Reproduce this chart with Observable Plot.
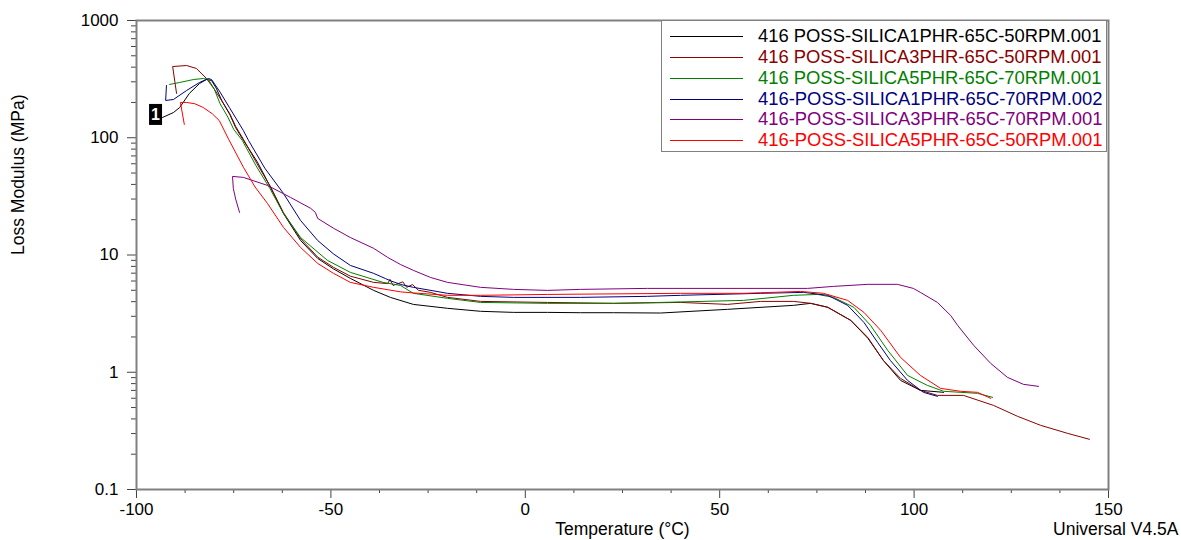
<!DOCTYPE html>
<html>
<head>
<meta charset="utf-8">
<script src="https://cdn.jsdelivr.net/npm/d3@7"></script>
<script src="https://cdn.jsdelivr.net/npm/@observablehq/plot@0.6"></script>
<style>
  html, body { margin: 0; padding: 0; background: #fff; }
  #wrap { position: relative; width: 1181px; height: 540px; font-family: "Liberation Sans", Arial, sans-serif; }
  #legend { position: absolute; left: 661px; top: 20px; width: 446px; height: 132px; border: 1px solid #808080; box-sizing: border-box; background: #fff; }
  .row { position: absolute; left: 0; height: 20px; }
  .sw { position: absolute; left: 8px; width: 73px; height: 0; border-top: 1.5px solid; }
  .lab { position: absolute; left: 96px; white-space: nowrap; font-size: 18.4px; line-height: 20px; }
</style>
</head>
<body>
<div id="wrap"></div>
<script>
// ---- data ----
const seriesNames = [
  "416 POSS-SILICA1PHR-65C-50RPM.001",
  "416 POSS-SILICA3PHR-65C-50RPM.001",
  "416 POSS-SILICA5PHR-65C-70RPM.001",
  "416-POSS-SILICA1PHR-65C-70RPM.002",
  "416-POSS-SILICA3PHR-65C-70RPM.001",
  "416-POSS-SILICA5PHR-65C-50RPM.001"
];
const seriesColors = ["#000000", "#8b0000", "#008000", "#000080", "#800080", "#ff0000"];

// [temperature °C, loss modulus MPa]
const s1 = [[-93.3,149],[-90.5,164],[-88.9,181],[-86.4,239],[-83.8,290],[-82.0,314],[-80.7,308],[-79.5,265],[-78,205],[-76,158],[-74.5,122],[-72.5,95],[-68.9,62],[-65.5,37.7],[-62.2,22.6],[-57.8,13.3],[-53.4,9.35],[-49.3,7.6],[-45,6.32],[-39,4.99],[-34.7,4.35],[-28.8,3.79],[-20,3.51],[-11.5,3.31],[-3,3.24],[5.7,3.24],[14.2,3.22],[22.7,3.22],[34.8,3.2],[52,3.44],[69,3.72],[73.4,3.87],[77.8,3.58],[83.7,2.77],[88.1,1.95],[92.1,1.26],[96.5,0.853],[101.6,0.701],[107.6,0.674]];
const s2 = [[-89.7,239],[-90.7,405],[-87.1,413],[-84.6,390],[-82,320],[-80,260],[-78,205],[-76,160],[-74.5,125],[-72.5,97],[-69,60],[-65.5,38],[-62.2,23],[-57.8,13.8],[-53.4,9.6],[-49.3,7.84],[-45,6.6],[-39,5.84],[-35.4,5.7],[-34.8,6.2],[-34,5.5],[-31.5,5.9],[-30.5,5.3],[-29,5.6],[-27.5,5.0],[-24.4,4.8],[-20,4.35],[-11.5,4.02],[5.7,3.94],[22.7,3.87],[39.9,3.94],[52,3.79],[60.5,4.02],[69,4.02],[73.4,3.87],[77.8,3.58],[83.7,2.77],[88.1,1.98],[92.1,1.26],[96.5,0.887],[101.6,0.701],[106,0.635],[112.7,0.635],[120.4,0.522],[126.6,0.421],[132.5,0.353],[139.5,0.301],[145.1,0.268]];
const s3 = [[-91.5,285],[-88.9,296],[-85.3,314],[-82.8,320],[-81.5,314],[-80,260],[-78.5,195],[-76.5,150],[-75,118],[-72.8,95],[-69.3,58],[-65.7,37],[-62.2,22.6],[-57.8,14.1],[-50.9,9.0],[-45,7.11],[-36.6,5.84],[-32.1,5.5],[-28.8,4.71],[-20,4.27],[-11.5,3.94],[5.7,3.87],[22.7,3.87],[34.8,3.94],[56.1,4.1],[69,4.53],[75.2,4.61],[79.3,4.35],[84.5,3.58],[88.8,2.51],[93.2,1.54],[98.3,0.941],[103.4,0.773],[107.6,0.688],[116.3,0.661],[120.2,0.611]];
const s4 = [[-92.3,279],[-92.5,208],[-90.5,212],[-87.1,253],[-83.8,296],[-81.5,320],[-80.7,314],[-78.5,245],[-76.1,181],[-72.5,115],[-71.2,95],[-67,55],[-62.2,33.5],[-57.8,19.7],[-53.4,13.3],[-49.3,10.2],[-45,8.15],[-39,6.97],[-36,6.3],[-34.5,6.0],[-32,5.6],[-28.8,5.3],[-20,4.71],[-11.5,4.44],[-3,4.35],[14.2,4.35],[31.4,4.44],[39.9,4.53],[60.5,4.71],[71.6,4.8],[77.8,4.53],[82.9,3.72],[87.1,2.66],[90.6,1.8],[93.9,1.26],[98.3,0.853],[102.4,0.674],[106,0.623]];
const s5 = [[-73.5,23.1],[-74.5,30],[-75.1,37],[-75.3,46.8],[-72.5,45.9],[-66.3,39.2],[-60.4,31],[-55.2,25],[-54,23.1],[-53.4,20.5],[-49.3,16.9],[-45,14.1],[-39,11.4],[-35.4,9.54],[-32.1,8.3],[-28.8,7.4],[-24.4,6.44],[-20,5.84],[-11.5,5.3],[-3,5.09],[5.7,4.99],[14.2,5.09],[31.4,5.19],[72.6,5.19],[79.3,5.4],[88.1,5.62],[95.7,5.62],[99.8,5.19],[101.6,4.8],[106,3.94],[109.4,3.05],[111.2,2.51],[115.3,1.7],[119.7,1.19],[124,0.905],[128.1,0.789],[132,0.758]];
const s6 = [[-87.7,130],[-88.7,200],[-87.1,200],[-85,195],[-82.8,181],[-80.5,160],[-78.7,140],[-76.3,97],[-72.5,56],[-69.5,38],[-66.3,27.5],[-62.2,17.2],[-57.8,11.6],[-53.4,8.48],[-49.3,6.97],[-45,5.84],[-39,5.3],[-32.1,4.85],[-28.8,4.75],[-20,4.53],[-11.5,4.53],[5.7,4.61],[39.9,4.71],[56.1,4.71],[70.8,4.89],[76.7,4.71],[82.9,4.1],[87.1,3.24],[91.4,2.28],[96.5,1.34],[101.6,0.941],[106.8,0.729],[111.9,0.688],[116.3,0.674],[119.7,0.599]];

const xMajorTicks = [-100, -50, 0, 50, 100, 150];
const xMinorTicks = [-87.5, -75, -62.5, -37.5, -25, -12.5, 12.5, 25, 37.5, 62.5, 75, 87.5, 112.5, 125, 137.5];
const yMajorTicks = [0.1, 1, 10, 100, 1000];
const yMinorTicks = [0.2,0.3,0.4,0.5,0.6,0.7,0.8,0.9, 2,3,4,5,6,7,8,9, 20,30,40,50,60,70,80,90, 200,300,400,500,600,700,800,900];
const xTitle = "Temperature (°C)";
const yTitle = "Loss Modulus (MPa)";
const footer = "Universal V4.5A";
const markerLabel = "1";

// ---- build ----
const allSeries = [s1, s2, s3, s4, s5, s6];
const rows = allSeries.flatMap((s, i) => s.map(([t, v]) => ({t, v, k: seriesNames[i]})));
const markerPoint = [{t: s1[0][0], v: s1[0][1]}];

const boxSymbol = { draw(ctx, size) { ctx.moveTo(-6.5, -10.5); ctx.lineTo(6.5, -10.5); ctx.lineTo(6.5, 10.5); ctx.lineTo(-6.5, 10.5); ctx.closePath(); } };

const chart = Plot.plot({
  width: 1181,
  height: 540,
  marginLeft: 136,
  marginRight: 73,
  marginTop: 20,
  marginBottom: 51,
  style: {fontFamily: "'Liberation Sans', Arial, sans-serif", fontSize: "17px", color: "#000", background: "#fff"},
  x: {domain: [-100, 150], label: null},
  y: {type: "log", domain: [0.1, 1000], label: null},
  color: {domain: seriesNames, range: seriesColors},
  marks: [
    Plot.axisX({ticks: xMinorTicks, tickSize: 4, stroke: "#444", tickFormat: () => "", label: null}),
    Plot.axisX({ticks: xMajorTicks, tickSize: 9, tickPadding: 4, stroke: "#444", tickFormat: d => String(d), fontSize: 17, label: null}),
    Plot.axisY({ticks: yMinorTicks, tickSize: 5, stroke: "#444", tickFormat: () => "", label: null}),
    Plot.axisY({ticks: yMajorTicks, tickSize: 9, tickPadding: 9, stroke: "#444", tickFormat: d => String(d), fontSize: 17, label: null}),
    Plot.frame({stroke: "#808080", strokeWidth: 2}),
    Plot.line(rows, {x: "t", y: "v", z: "k", stroke: "k", strokeWidth: 1}),
    Plot.dot(markerPoint, {x: "t", y: "v", symbol: boxSymbol, fill: "#000", stroke: null, dx: -7, dy: -3}),
    Plot.text(markerPoint, {x: "t", y: "v", text: () => markerLabel, fill: "#fff", dx: -7, dy: -3, fontSize: 16, fontWeight: "bold"}),
    Plot.text([xTitle], {frameAnchor: "bottom", dy: 40, text: d => d, fontSize: 17.5, lineAnchor: "middle"}),
    Plot.text([footer], {frameAnchor: "bottom-right", dx: 70, dy: 40, textAnchor: "end", text: d => d, fontSize: 17.5, lineAnchor: "middle"}),
    Plot.text([yTitle], {frameAnchor: "left", dx: -118, rotate: -90, text: d => d, fontSize: 17.5, lineAnchor: "middle"})
  ]
});

const wrap = document.getElementById("wrap");
wrap.appendChild(chart);

// legend
const legend = document.createElement("div");
legend.id = "legend";
const rowTops = [5, 26, 47, 68, 88, 109];
seriesNames.forEach((name, i) => {
  const r = document.createElement("div");
  r.className = "row";
  r.style.top = rowTops[i] + "px";
  const sw = document.createElement("div");
  sw.className = "sw";
  sw.style.borderTopColor = seriesColors[i];
  sw.style.top = "10px";
  const lb = document.createElement("div");
  lb.className = "lab";
  lb.style.color = seriesColors[i];
  lb.textContent = name;
  r.appendChild(sw);
  r.appendChild(lb);
  legend.appendChild(r);
});
wrap.appendChild(legend);
</script>
</body>
</html>
